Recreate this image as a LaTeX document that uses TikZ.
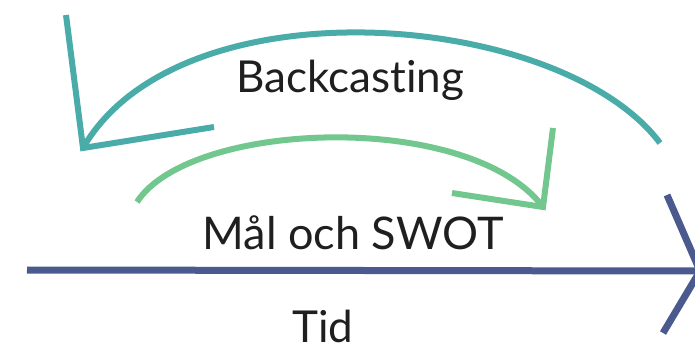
\documentclass[tikz,border=0pt]{standalone}
\usepackage{fontspec}
\setmainfont{Lato}[Ligatures=NoCommon]
\definecolor{tealarc}{HTML}{4AACA8}
\definecolor{greenarc}{HTML}{72C78E}
\definecolor{timeline}{HTML}{4B5A8E}

\begin{document}
\begin{tikzpicture}[x=1pt, y=-1pt,
    bow/.style={line width=6pt, line join=miter},
    word/.style={font=\fontsize{44}{50}\selectfont, anchor=base, inner sep=0pt, text=black!88}]
  \useasboundingbox (0,0) rectangle (695,344);
  \clip (0,0) rectangle (695,344);

  % time axis
  \coordinate (t0) at (27,270);
  \coordinate (tip) at (700,271);
  \draw[timeline, line width=7pt] (t0) -- (tip);
  \draw[timeline, bow, line width=7pt] (667,195) -- (tip) -- (663,333);

  % backcasting arc
  \coordinate (bstart) at (660,143);
  \coordinate (bend) at (83,148);
  \draw[tealarc, bow] (bstart) .. controls (560,10) and (180,-20) .. (bend);
  \draw[tealarc, bow] (66,15) -- (bend) -- (214,127);

  % goal arc
  \coordinate (gstart) at (137,202);
  \coordinate (gend) at (543,207);
  \draw[greenarc, bow] (gstart) .. controls (190,120) and (470,110) .. (gend);
  \draw[greenarc, bow] (553,128) -- (gend) -- (452,193);

  \node[word] (back) at (350,93) {Backcasting};
  \node[word, font=\fontsize{45}{50}\selectfont] (goal) at (353,250) {Mål och SWOT};
  \node[word] (time) at (323,342) {Tid};
\end{tikzpicture}
\end{document}
